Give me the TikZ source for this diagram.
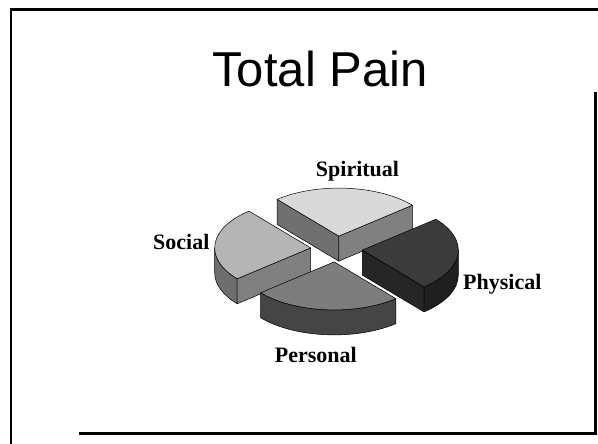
\documentclass[tikz,border=0pt]{standalone}
\usepackage{fontspec}
\setmainfont{Liberation Serif}
\newfontfamily\titlefont{Liberation Sans}
\usepackage{tikz}
\usetikzlibrary{calc}

\definecolor{spiritTop}{gray}{0.85}
\definecolor{spiritLeft}{gray}{0.44}
\definecolor{spiritRight}{gray}{0.50}
\definecolor{socialTop}{gray}{0.71}
\definecolor{socialRim}{gray}{0.43}
\definecolor{socialFront}{gray}{0.50}
\definecolor{physicTop}{gray}{0.23}
\definecolor{physicFront}{gray}{0.15}
\definecolor{physicRim}{gray}{0.12}
\definecolor{personTop}{gray}{0.49}
\definecolor{personRim}{gray}{0.27}

\tikzset{face/.style={draw=black, line width=0.5pt, line join=round}}

\begin{document}
\begin{tikzpicture}[x=1pt, y=1pt, font=\bfseries\fontsize{22}{26}\selectfont]
		\useasboundingbox (0,0) rectangle (598,-444);
		% slide frame
		\draw[line width=2.5pt] (11.2,-444) -- (11.2,-9.7) -- (598,-9.7);
		\draw[line width=3pt] (79,-433.3) -- (595.8,-433.3) -- (595.8,-92);
		\node[font=\titlefont\fontsize{49}{58}\selectfont, anchor=base] (title) at (320,-86.7) {Total Pain};
		% apexes of the four slices
		\coordinate (spirit) at (338.8,-236.1);
		\coordinate (social) at (310.7,-247.9);
		\coordinate (physic) at (362.3,-250.1);
		\coordinate (person) at (334.2,-261.9);
		% spiritual
		\path[face, fill=spiritLeft] (spirit) -- ++(130:96 and 48) -- ++(0,-25) -- ([yshift=-25]spirit) -- cycle;
		\path[face, fill=spiritRight] (spirit) -- ++(40:96 and 48) -- ++(0,-25) -- ([yshift=-25]spirit) -- cycle;
		\path[face, fill=spiritTop] (spirit) -- ++(40:96 and 48) arc[start angle=40, end angle=130, x radius=96, y radius=48] -- cycle;
		% social
		\path[face, fill=socialRim] ([shift={(180:96 and 48)}]social) arc[start angle=180, end angle=220, x radius=96, y radius=48] -- ++(0,-25) arc[start angle=220, end angle=180, x radius=96, y radius=48] -- cycle;
		\path[face, fill=socialFront] (social) -- ++(220:96 and 48) -- ++(0,-25) -- ([yshift=-25]social) -- cycle;
		\path[face, fill=socialTop] (social) -- ++(130:96 and 48) arc[start angle=130, end angle=220, x radius=96, y radius=48] -- cycle;
		% physical
		\path[face, fill=physicFront] (physic) -- ++(-50:96 and 48) -- ++(0,-25) -- ([yshift=-25]physic) -- cycle;
		\path[face, fill=physicRim] ([shift={(-50:96 and 48)}]physic) arc[start angle=-50, end angle=0, x radius=96, y radius=48] -- ++(0,-25) arc[start angle=0, end angle=-50, x radius=96, y radius=48] -- cycle;
		\path[face, fill=physicTop] (physic) -- ++(-50:96 and 48) arc[start angle=-50, end angle=40, x radius=96, y radius=48] -- cycle;
		% personal
		\path[face, fill=personRim] ([shift={(220:96 and 48)}]person) arc[start angle=220, end angle=310, x radius=96, y radius=48] -- ++(0,-25) arc[start angle=310, end angle=220, x radius=96, y radius=48] -- cycle;
		\path[face, fill=personTop] (person) -- ++(220:96 and 48) arc[start angle=220, end angle=310, x radius=96, y radius=48] -- cycle;
		% labels
		\node[anchor=base] (spiritual) at (357.5,-176) {Spiritual};
		\node[anchor=base] (soc) at (181.3,-249.3) {Social};
		\node[anchor=base] (phys) at (502.3,-289.3) {Physical};
		\node[anchor=base] (pers) at (315.8,-362.7) {Personal};
	\end{tikzpicture}
\end{document}
